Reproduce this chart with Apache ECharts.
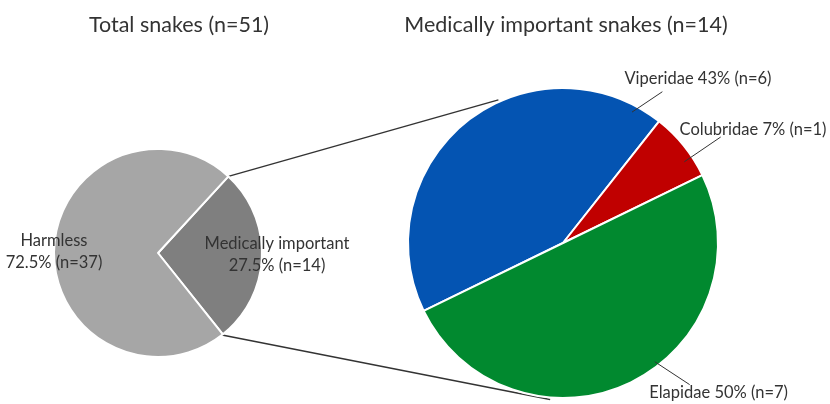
<!DOCTYPE html>
<html>
<head>
<meta charset="utf-8">
<script src="https://cdn.jsdelivr.net/npm/echarts@6/dist/echarts.min.js"></script>
<style>
  html, body { margin: 0; padding: 0; background: #fff; }
  #chart { width: 830px; height: 404px; }
</style>
</head>
<body>
<div id="chart"></div>
<script>
// data
const titles = ['Total snakes (n=51)', 'Medically important snakes (n=14)']
const totalNames = ['Medically important', 'Harmless']
const totalCounts = [14, 37]
const totalPct = ['27.5%', '72.5%']
const medNames = ['Viperidae', 'Colubridae', 'Elapidae']
const medCounts = [6, 1, 7]
const medPct = ['43%', '7%', '50%']

// layout
const FONT = 'Lato'
const C1 = [158, 253], R1 = 104
const C2 = [563, 243], R2 = 155
const totalColors = ['#7f7f7f', '#a6a6a6']
const medColors = ['#0454b2', '#c00000', '#01892f']
// label anchors, [angle deg, distance px] from each pie centre
const totalLabelPos = [[-1, 119], [179.4, 104]]
const medLabelPos = [[50.7, 213], [30.7, 221], [-43.9, 216]]
// leader lines of the right pie: [angle, dist] start and end
const medLeaders = [
  [[62.2, 148], [56.7, 181]],
  [[33.8, 146], [33.9, 190]],
  [[-52.3, 150], [-48.2, 190]]
]

const polar = (c, deg, d) => {
  const a = deg * Math.PI / 180
  return [c[0] + d * Math.cos(a), c[1] - d * Math.sin(a)]
}

const chart = echarts.init(document.getElementById('chart'))

const segment = (p, q, width) => ({
  type: 'line',
  z: 10,
  silent: true,
  shape: { x1: p[0], y1: p[1], x2: q[0], y2: q[1] },
  style: { stroke: '#333', lineWidth: width }
})

// lines joining the small pie's slice to the big pie
const connectors = [
  segment(polar(C1, 47.4, R1), polar(C2, 114.3, R2 + 2), 1.4),
  segment(polar(C1, -52, R1), polar(C2, -94.7, R2 + 2), 1.4)
].map(g => Object.assign(g, { z: 0 }))

const leaders = medLeaders.map(l => segment(polar(C2, l[0][0], l[0][1]), polar(C2, l[1][0], l[1][1]), 1))

const placeLabel = (center, table) => params => {
  const pos = table[params.dataIndex]
  const xy = polar(center, pos[0], pos[1])
  return { x: xy[0], y: xy[1], align: 'center', verticalAlign: 'middle' }
}

const titleStyle = { fontFamily: FONT, fontSize: 21.5, fontWeight: 'normal', color: '#333' }

const option = {
  animation: false,
  textStyle: { fontFamily: FONT },
  title: [
    { text: titles[0], left: 179, top: 14, padding: 0, textAlign: 'center', textStyle: titleStyle },
    { text: titles[1], left: 566, top: 14, padding: 0, textAlign: 'center', textStyle: titleStyle }
  ],
  graphic: connectors.concat(leaders),
  series: [
    {
      type: 'pie',
      center: C1,
      radius: R1,
      startAngle: 47.4,
      clockwise: true,
      z: 2,
      itemStyle: { borderColor: '#fff', borderWidth: 2 },
      label: {
        position: 'inside',
        fontFamily: FONT,
        fontSize: 16.5,
        lineHeight: 22,
        color: '#333',
        align: 'center',
        overflow: 'none',
        formatter: p => p.name + '\n' + totalPct[p.dataIndex] + ' (n=' + p.value + ')'
      },
      labelLine: { show: false },
      labelLayout: placeLabel(C1, totalLabelPos),
      emphasis: { disabled: true },
      data: totalNames.map((n, i) => ({ name: n, value: totalCounts[i], itemStyle: { color: totalColors[i] } }))
    },
    {
      type: 'pie',
      center: C2,
      radius: R2,
      startAngle: 206,
      clockwise: true,
      z: 2,
      itemStyle: { borderColor: '#fff', borderWidth: 2 },
      label: {
        position: 'outside',
        fontFamily: FONT,
        fontSize: 16.5,
        color: '#333',
        overflow: 'none',
        formatter: p => p.name + ' ' + medPct[p.dataIndex] + ' (n=' + p.value + ')'
      },
      labelLine: { show: false },
      labelLayout: placeLabel(C2, medLabelPos),
      emphasis: { disabled: true },
      data: medNames.map((n, i) => ({ name: n, value: medCounts[i], itemStyle: { color: medColors[i] } }))
    }
  ]
}

chart.setOption(option)
</script>
</body>
</html>
